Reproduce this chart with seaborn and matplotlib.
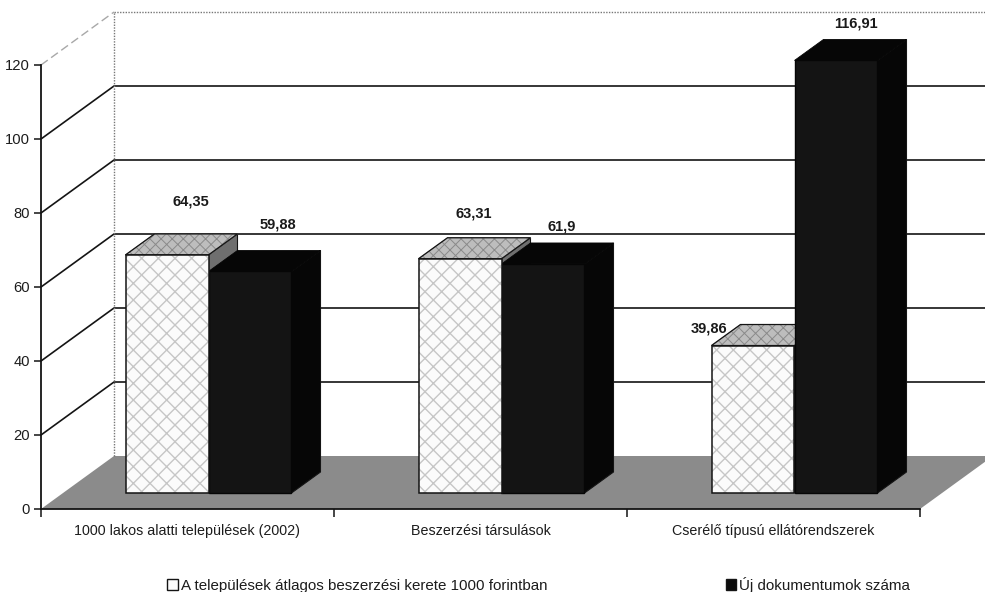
import matplotlib
matplotlib.use("Agg")
import matplotlib.pyplot as plt
from matplotlib.patches import Patch, Polygon, Rectangle
import pandas as pd
import seaborn as sns

categories = ["1000 lakos alatti települések (2002)", "Beszerzési társulások", "Cserélő típusú ellátórendszerek"]
series_a_name = "A települések átlagos beszerzési kerete 1000 forintban"
series_b_name = "Új dokumentumok száma"
series_a = [64.35, 63.31, 39.86]
series_b = [59.88, 61.9, 116.91]
label_a = ["64,35", "63,31", "39,86"]
label_b = ["59,88", "61,9", "116,91"]
y_ticks = [0, 20, 40, 60, 80, 100, 120]
label_off_a = [(24, 53), (14, 45), (-44, 17)]
label_off_b = [(28, 47), (19, 37), (20, 37)]

sns.set_style("white")
plt.rcParams["font.family"] = ["Liberation Sans", "DejaVu Sans"]
W, H = 985, 592
fig = plt.figure(figsize=(W / 100, H / 100), dpi=100, facecolor="white")

def px_axes(x0, x1, ytop, ybot, z):
    a = fig.add_axes([x0 / W, 1 - ybot / H, (x1 - x0) / W, (ybot - ytop) / H], zorder=z)
    a.set_xlim(-0.5, 2.5)
    a.set_ylim(0, 120)
    return a

INK = "#141414"
ax = px_axes(41, 920, 65, 509, 1)
PX_X = 3 / 879
PX_Y = 120 / 444
wx, wy = 73 * PX_X, 53 * PX_Y

# floor
ax.add_patch(Polygon([(-0.5, 0), (-0.5 + wx, wy), (2.5 + wx, wy), (2.5, 0)], closed=True,
                     fc="#8b8b8b", ec="none", clip_on=False, zorder=1))
# walls
for v in y_ticks[1:-1]:
    ax.plot([-0.5, -0.5 + wx, 2.5 + wx], [v, v + wy, v + wy], color=INK, lw=1.2, clip_on=False, zorder=2)
ax.plot([-0.5, -0.5 + wx], [120, 120 + wy], color="#a8a8a8", lw=1, ls=(0, (6, 3)), clip_on=False, zorder=2)
ax.plot([-0.5 + wx, 2.5 + wx], [120 + wy, 120 + wy], color="#777777", lw=1, ls=(0, (1, 1)), clip_on=False, zorder=2)
ax.plot([-0.5 + wx, -0.5 + wx], [wy, 120 + wy], color="#777777", lw=1, ls=(0, (1, 1)), clip_on=False, zorder=2)

sns.despine(ax=ax)
for s in ("left", "bottom"):
    ax.spines[s].set_color(INK)
    ax.spines[s].set_linewidth(1.3)
ax.set_yticks(y_ticks)
ax.set_xticks([0, 1, 2], categories)
ax.set_xticks([-0.5, 0.5, 1.5, 2.5], minor=True)
ax.tick_params(axis="x", which="major", length=0, pad=11, labelsize=10.3, colors="#1c1c1c")
ax.tick_params(axis="x", which="minor", length=6, width=1.1, color=INK, bottom=True)
ax.tick_params(axis="y", length=5, width=1.1, color=INK, left=True, pad=3, labelsize=10.6, labelcolor="#1c1c1c")

# bars, on a twin plane set back from the axis
axb = px_axes(41 + 21, 920 + 21, 65 - 16, 509 - 16, 3)
axb.patch.set_alpha(0)
df = pd.DataFrame({
    "kategoria": categories * 2,
    "ertek": series_a + series_b,
    "sorozat": [series_a_name] * 3 + [series_b_name] * 3,
})
sns.barplot(data=df, x="kategoria", y="ertek", hue="sorozat", palette=["#fbfbfb", "#0c0c0c"],
            width=0.5665, gap=0, saturation=1, legend=False, errorbar=None, ax=axb)
axb.set_xlim(-0.5, 2.5)
axb.set_ylim(0, 120)
axb.axis("off")

dx, dy = 29 * PX_X, 21 * PX_Y
bars = list(axb.patches)
plt.rcParams["hatch.linewidth"] = 0.7
for i, bar in enumerate(bars):
    x, w, h = bar.get_x(), bar.get_width(), bar.get_height()
    white = i < 3
    side = [(x + w, 0), (x + w + dx, dy), (x + w + dx, h + dy), (x + w, h)]
    top = [(x, h), (x + dx, h + dy), (x + w + dx, h + dy), (x + w, h)]
    base_z = 1 if white else 2
    axb.add_patch(Polygon(side, closed=True, fc="#6f6f6f" if white else "#060606",
                          ec=INK, lw=0.8, zorder=base_z, clip_on=False))
    axb.add_patch(Polygon(top, closed=True, fc="#bdbdbd" if white else "#060606",
                          ec="#8a8a8a" if white else "#060606", lw=0.6, hatch="xxx" if white else None,
                          zorder=base_z, clip_on=False))
    if white:
        axb.add_patch(Polygon(top, closed=True, fc="none", ec=INK, lw=0.9, zorder=base_z, clip_on=False))
        bar.set_hatch("xx")
        bar.set_edgecolor("#c6c6c6")
        bar.set_linewidth(0)
        bar.set_zorder(3)
        axb.add_patch(Rectangle((x, 0), w, h, fc="none", ec=INK, lw=1.1, zorder=3.1, clip_on=False))
    else:
        bar.set_facecolor("#141414")
        bar.set_edgecolor("#060606")
        bar.set_zorder(2.5)
    bar.set_clip_on(False)

for bar, txt, off in zip(bars, label_a + label_b, label_off_a + label_off_b):
    axb.annotate(txt, (bar.get_x() + bar.get_width() / 2, bar.get_height()), xytext=off,
                 textcoords="offset pixels", ha="center", va="center", fontsize=10.5,
                 fontweight="bold", color="#1a1a1a", zorder=5, annotation_clip=False)

handles = [Patch(fc="#fbfbfb", ec=INK, lw=1), Patch(fc="#0c0c0c", ec=INK, lw=1)]
fig.legend(handles, [series_a_name, series_b_name], ncol=2, frameon=False, fontsize=10.9,
           loc="center left", bbox_to_anchor=(167 / W, 1 - 585 / H), borderaxespad=0, borderpad=0,
           handlelength=0.7, handleheight=0.7, handletextpad=0.2, columnspacing=11.8,
           labelcolor="#1c1c1c")

fig.savefig("out.png", dpi=100, facecolor="white")
